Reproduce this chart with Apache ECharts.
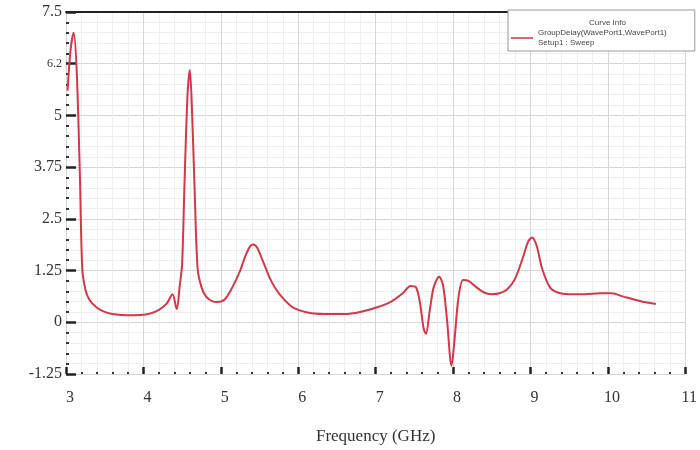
<!DOCTYPE html>
<html>
<head>
<meta charset="utf-8">
<script src="https://cdn.jsdelivr.net/npm/echarts@6/dist/echarts.min.js"></script>
<style>html,body{margin:0;padding:0;background:#fff;}#c{width:700px;height:450px;}</style>
</head>
<body>
<div id="c"></div>
<script>
var seriesName = 'GroupDelay(WavePort1,WavePort1)';
var seriesSub = 'Setup1 : Sweep';
var freq = [3.02,3.06,3.10,3.14,3.18,3.21,3.25,3.30,3.40,3.50,3.60,3.80,4.00,4.10,4.20,4.30,4.375,4.43,4.47,4.50,4.53,4.57,4.60,4.63,4.66,4.70,4.75,4.81,4.90,4.95,5.05,5.15,5.25,5.32,5.38,5.42,5.47,5.55,5.65,5.75,5.90,6.00,6.17,6.40,6.60,6.80,7.00,7.20,7.35,7.45,7.52,7.57,7.62,7.65,7.70,7.75,7.82,7.87,7.92,7.98,8.02,8.07,8.13,8.20,8.30,8.40,8.50,8.60,8.70,8.80,8.90,8.97,9.02,9.08,9.15,9.25,9.35,9.50,9.70,9.90,10.05,10.20,10.40,10.62];
var delay = [5.6,6.6,7.0,6.0,3.5,1.3,0.8,0.55,0.35,0.25,0.2,0.17,0.18,0.22,0.3,0.45,0.68,0.32,0.9,1.4,3.3,5.5,6.1,5.0,3.3,1.3,0.85,0.62,0.5,0.49,0.55,0.85,1.25,1.62,1.84,1.88,1.8,1.45,1.0,0.7,0.4,0.3,0.22,0.2,0.2,0.25,0.35,0.5,0.7,0.88,0.85,0.5,-0.15,-0.28,0.3,0.85,1.1,0.9,0.1,-1.05,-0.4,0.6,1.02,1.0,0.85,0.72,0.68,0.7,0.8,1.05,1.55,1.95,2.05,1.85,1.3,0.85,0.72,0.68,0.68,0.7,0.7,0.62,0.52,0.44];
var xTicks = {min: 3, max: 11, step: 1};
var yTicks = {min: -1.25, max: 7.5, step: 1.25};

var data = freq.map(function (f, i) { return [f, delay[i]]; });
var serif = 'Liberation Serif';
var chart = echarts.init(document.getElementById('c'));
chart.setOption({
  animation: false,
  backgroundColor: '#fff',
  title: {
    text: 'Curve Info',
    left: 584, top: 14,
    textStyle: {fontSize: 8, fontWeight: 'normal', color: '#444', fontFamily: 'Arial'},
    z: 20
  },
  legend: {
    left: 508, top: 10,
    orient: 'vertical',
    backgroundColor: '#fff',
    borderColor: '#999', borderWidth: 1,
    padding: [18, 28, 3, 3],
    itemWidth: 22, itemHeight: 6,
    itemGap: 2,
    icon: 'path://M0,0 L20,0 L20,1.4 L0,1.4 Z',
    textStyle: {fontSize: 8, color: '#444', fontFamily: 'Arial', lineHeight: 10},
    formatter: function (n) { return n + '\n' + seriesSub; },
    z: 10
  },
  grid: {left: 66, right: 10, top: 12, bottom: 74},
  xAxis: [{
    type: 'value',
    min: xTicks.min, max: xTicks.max, interval: xTicks.step,
    name: 'Frequency (GHz)',
    nameLocation: 'middle',
    nameGap: 54,
    nameTextStyle: {fontFamily: serif, fontSize: 17, color: '#333'},
    axisLine: {show: false, onZero: false},
    axisTick: {show: true, length: 7, inside: true, lineStyle: {color: '#222', width: 2.5}},
    minorTick: {show: true, splitNumber: 5, length: 2, lineStyle: {color: '#333', width: 2}},
    axisLabel: {fontFamily: serif, fontSize: 16, color: '#333', margin: 16, padding: [0, 0, 0, 8]},
    splitLine: {show: true, lineStyle: {color: '#d6d6d6', width: 1}},
    minorSplitLine: {show: true, lineStyle: {color: '#eeeeee', width: 1}}
  }, {
    type: 'value',
    position: 'top',
    min: xTicks.min, max: xTicks.max,
    axisLine: {show: true, onZero: false, lineStyle: {color: '#222', width: 2}},
    axisTick: {show: false},
    axisLabel: {show: false},
    splitLine: {show: false}
  }],
  yAxis: {
    type: 'value',
    min: yTicks.min, max: yTicks.max, interval: yTicks.step,
    axisLine: {show: false, onZero: false},
    axisTick: {show: true, length: 10, inside: true, lineStyle: {color: '#222', width: 2.5}},
    minorTick: {show: true, splitNumber: 5, length: 3, lineStyle: {color: '#333', width: 2}},
    axisLabel: {
      fontFamily: serif, fontSize: 16, color: '#333', margin: 4,
      formatter: function (v) { return v === 6.25 ? '{s|6.2}' : String(v); },
      rich: {s: {fontFamily: serif, fontSize: 12, color: '#333'}}
    },
    splitLine: {show: true, lineStyle: {color: '#d6d6d6', width: 1}},
    minorSplitLine: {show: true, lineStyle: {color: '#eeeeee', width: 1}}
  },
  series: [{
    name: seriesName,
    type: 'line',
    data: data,
    showSymbol: false,
    smooth: 0.3,
    lineStyle: {color: '#d23848', width: 2},
    itemStyle: {color: '#d23848'},
    z: 5
  }]
});
</script>
</body>
</html>
